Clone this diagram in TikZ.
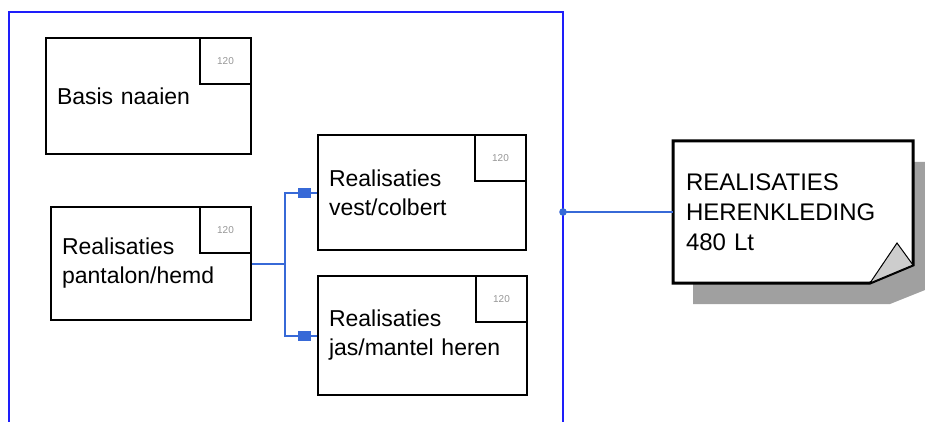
\documentclass[tikz,border=0pt]{standalone}
\usepackage{fontspec}
\setmainfont{Liberation Sans}
\usetikzlibrary{arrows.meta,decorations.markings,calc}
\definecolor{frameblue}{RGB}{30,30,250}
\definecolor{linkblue}{RGB}{55,105,215}
\definecolor{shadowgray}{RGB}{160,160,160}
\definecolor{foldgray}{RGB}{205,205,205}
\definecolor{tinygray}{RGB}{150,150,150}
\begin{document}
\begin{tikzpicture}[x=1pt,y=-1pt,
  taskbox/.style n args={2}{draw=black, line width=2.2pt, inner xsep=11pt, inner ysep=0pt,
     minimum width=#1pt, minimum height=#2pt, text width=#1pt-22pt, align=left,
     font=\fontsize{23}{29}\selectfont},
  cornerbox/.style={draw=black, line width=2.2pt, minimum width=51pt, minimum height=46pt,
     inner sep=0pt, anchor=north east, text=tinygray, font=\fontsize{10}{12}\selectfont},
  link/.style={draw=linkblue, line width=2pt},
  tiplink/.style={link, postaction={decorate},
     decoration={markings, mark=at position -6pt with {\arrow[linkblue]{Rectangle[length=13pt,width=10pt]}}}},
  notetext/.style={inner xsep=13pt, inner ysep=0pt, minimum width=240pt, minimum height=142pt,
     text width=214pt, align=left, font=\fontsize{24}{30}\selectfont}
]
\useasboundingbox (0,0) rectangle (925,422);
\clip (0,0) rectangle (925,422);

% shadow of the note
\fill[shadowgray] (693,162) -- (935,162) -- (935,286) -- (890,304) -- (693,304) -- cycle;

% blue frame
\draw[frameblue, line width=2.2pt] (9,12) rectangle (563,440);

% task boxes
\node[taskbox={205}{116}] (basis) at (148.5,96) {Basis naaien};
\node[cornerbox] (basisc) at (basis.north east) {120};

\node[taskbox={200}{113}] (pant) at (151,263.5) {Realisaties\\pantalon/hemd};
\node[cornerbox] (pantc) at (pant.north east) {120};

\node[taskbox={208}{115}] (vest) at (422,192.5) {Realisaties\\vest/colbert};
\node[cornerbox] (vestc) at (vest.north east) {120};

\node[taskbox={209}{119}] (jas) at (422.5,335.5) {Realisaties\\jas/mantel heren};
\node[cornerbox] (jasc) at (jas.north east) {120};

% connectors
\path[tiplink] (pant.east) -- ++(33,0) |- (vest.west);
\path[tiplink] (pant.east) -- ++(33,0) |- (jas.west);

% note outline with folded corner
\draw[black, line width=3pt, line join=miter, fill=white]
  (673,141) -- (913,141) -- (913,265) -- (870,283) -- (673,283) -- cycle;
\filldraw[fill=foldgray, draw=black, line width=1pt]
  (870,283) -- (897,243) -- (913,265) -- cycle;
\node[notetext] (note) at (793,212) {REALISATIES\\HERENKLEDING\\480 Lt};

\coordinate (dot) at (563,212);
\draw[link] (dot) -- (note.west);
\fill[linkblue] (dot) circle (3.8pt);
\end{tikzpicture}
\end{document}
